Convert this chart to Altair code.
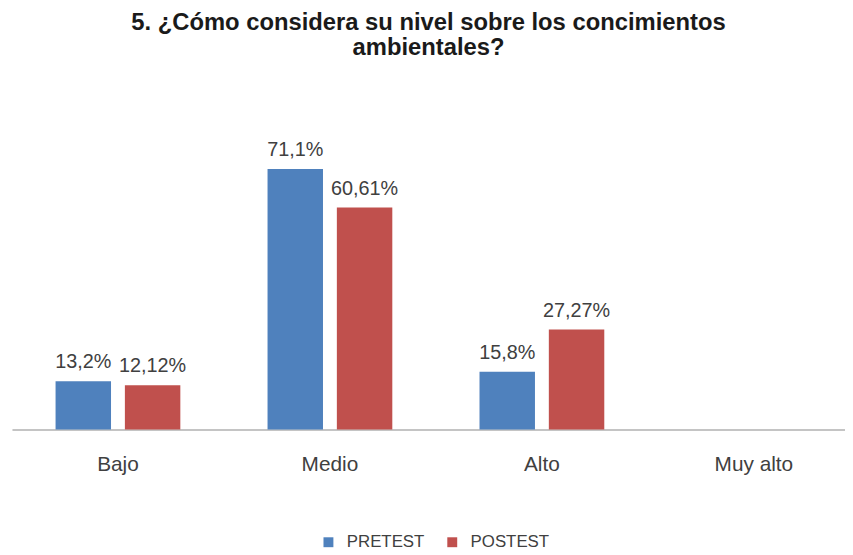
import altair as alt
import pandas as pd

categories = ["Bajo", "Medio", "Alto", "Muy alto"]
series = ["PRETEST", "POSTEST"]
pretest = [13.2, 71.1, 15.8, None]
postest = [12.12, 60.61, 27.27, None]
pretest_labels = ["13,2%", "71,1%", "15,8%", ""]
postest_labels = ["12,12%", "60,61%", "27,27%", ""]
colors = ["#4F81BD", "#C0504D"]

rows = []
for i, c in enumerate(categories):
    rows.append({"cat": c, "serie": "PRETEST", "val": pretest[i], "lab": pretest_labels[i]})
    rows.append({"cat": c, "serie": "POSTEST", "val": postest[i], "lab": postest_labels[i]})
df = pd.DataFrame(rows)

font = "Liberation Sans"

x = alt.X("cat:N", sort=categories, title=None,
          scale=alt.Scale(domain=categories, range=[0, 856], paddingInner=0, paddingOuter=0),
          axis=alt.Axis(labelAngle=0, ticks=False, labelPadding=24, labelFontSize=21,
                        labelFont=font, labelColor="#404040", domainColor="#b0b0b0",
                        domainWidth=1.5, grid=False))
xo = alt.XOffset("serie:N", sort=series,
                 scale=alt.Scale(domain=series, paddingInner=0.2, paddingOuter=0.629))
y = alt.Y("val:Q", title=None, scale=alt.Scale(domain=[0, 80]), axis=None)

bars = alt.Chart(df).mark_bar().encode(
    x=x, xOffset=xo, y=y,
    color=alt.Color("serie:N", sort=series,
                    scale=alt.Scale(domain=series, range=colors),
                    legend=alt.Legend(title=None, orient="none", direction="horizontal",
                                      legendX=311, legendY=401, symbolType="square",
                                      symbolSize=100, symbolStrokeWidth=0,
                                      labelFontSize=17, labelFont=font,
                                      labelColor="#404040", columnPadding=19,
                                      labelOffset=10, padding=0)),
)

texts = alt.Chart(df).mark_text(dy=-9, fontSize=20, font=font, color="#404040",
                                baseline="bottom").encode(
    x=x, xOffset=xo, y=y, text="lab:N"
)

chart = alt.layer(bars, texts).properties(
    width=841, height=296,
    autosize=alt.AutoSizeParams(type="none"),
    padding={"left": 4, "top": 127, "right": 0, "bottom": 120},
    title=alt.TitleParams(
        text=["5. ¿Cómo considera su nivel sobre los concimientos", "ambientales?"],
        anchor="middle", frame="group", fontSize=24, font=font, fontWeight="bold",
        color="#1a1a1a", lineHeight=25, offset=77),
).configure_view(stroke=None)

chart.save("out.html", embed_options={"renderer": "svg", "actions": False})
